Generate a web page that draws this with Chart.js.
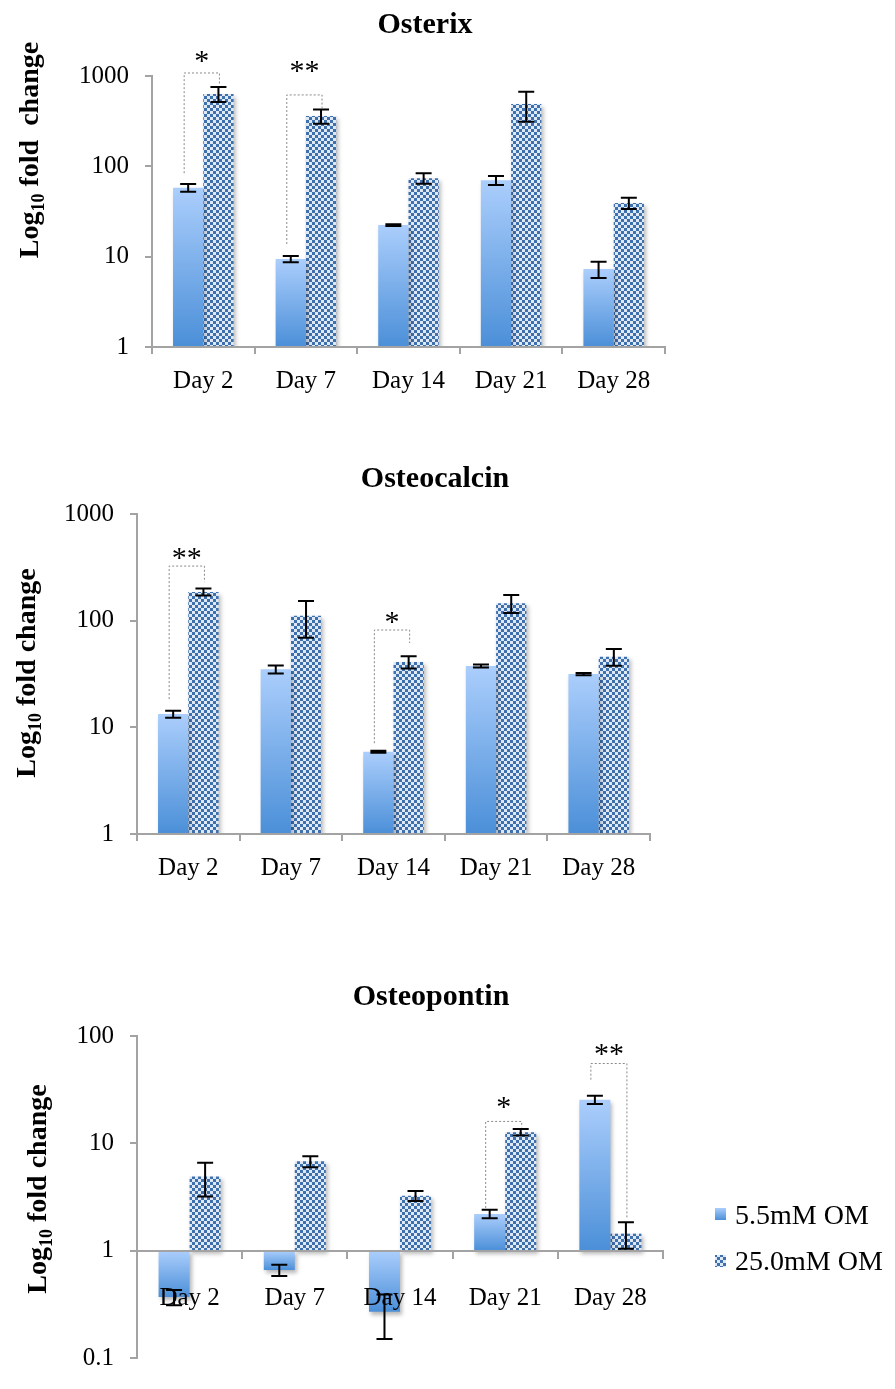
<!DOCTYPE html>
<html>
<head>
<meta charset="utf-8">
<title>Osterix, Osteocalcin, Osteopontin</title>
<script src="https://cdn.jsdelivr.net/npm/chart.js@4.4.1/dist/chart.umd.min.js"></script>
<style>
  body { margin: 0; background: #fff; }
  #wrap { position: relative; width: 895px; height: 1389px; }
  canvas { position: absolute; left: 0; }
</style>
</head>
<body>
<div id="wrap">
  <canvas id="osterix" width="895" height="430" style="top:0px"></canvas>
  <canvas id="osteocalcin" width="895" height="460" style="top:440px"></canvas>
  <canvas id="osteopontin" width="895" height="429" style="top:960px"></canvas>
</div>
<script>
// --- data ---
const days = ['Day 2', 'Day 7', 'Day 14', 'Day 21', 'Day 28'];
const seriesNames = ['5.5mM OM', '25.0mM OM'];

const osxLow     = [58, 9.4, 22.4, 70, 7.3];
const osxLowErr  = [5.8, 0.75, 0.5, 8, 1.5];
const osxHigh    = [634, 361, 74, 490, 39.3];
const osxHighErr = [120, 65, 10, 178, 5.5];
const osxTicks   = [1, 10, 100, 1000];

const ocnLow     = [13.3, 35, 5.9, 37.6, 31.6];
const ocnLowErr  = [1, 3, 0.12, 1.2, 0.8];
const ocnHigh    = [186, 111, 41, 146, 46];
const ocnHighErr = [14, 42, 5.3, 28, 8.3];
const ocnTicks   = [1, 10, 100, 1000];

const opnLow     = [0.37, 0.66, 0.27, 2.2, 25.5];
const opnLowErr  = [0.06, 0.08, 0.12, 0.2, 2.3];
const opnHigh    = [4.9, 6.8, 3.25, 12.7, 1.44];
const opnHighErr = [1.7, 0.8, 0.35, 0.9, 0.4];
const opnTicks   = [0.1, 1, 10, 100];

// significance brackets: day index, stars, and the values where the legs end / the bar / the stars sit
const osxSig = [
  { i: 0, text: '*',  left: 84,   right: 795,  top: 1080, star: 1660 },
  { i: 1, text: '**', left: 13.8, right: 443,  top: 617,  star: 1290 }
];
const ocnSig = [
  { i: 0, text: '**', left: 18.4, right: 230,  top: 325,  star: 431 },
  { i: 2, text: '*',  left: 7.1,  right: 61.7, top: 81.7, star: 108 }
];
const opnSig = [
  { i: 3, text: '*',  left: 2.5,  right: 14.1, top: 16,   star: 24.5 },
  { i: 4, text: '**', left: 39.2, right: 2.04, top: 55.4, star: 75 }
];

// --- styles ---
const axisGray = '#a3a3a3';
const serif = '"Liberation Serif", "Times New Roman", serif';
const tickFont = { family: serif, size: 25 };

const makeChecks = () => {
  const c = document.createElement('canvas');
  c.width = 6; c.height = 6;
  const g = c.getContext('2d');
  g.fillStyle = '#dfe8f5';
  g.fillRect(0, 0, 6, 6);
  g.fillStyle = '#3f70ae';
  g.fillRect(0, 0, 3, 3);
  g.fillRect(3, 3, 3, 3);
  return c;
};

const blueFill = ctx => {
  const chart = ctx.chart;
  const y = chart.scales.y;
  if (!y || !Array.isArray(ctx.raw)) return '#6ea8e8';
  const a = y.getPixelForValue(ctx.raw[0]);
  const b = y.getPixelForValue(ctx.raw[1]);
  if (!isFinite(a) || !isFinite(b)) return '#6ea8e8';
  const g = chart.ctx.createLinearGradient(0, Math.min(a, b), 0, Math.max(a, b));
  g.addColorStop(0, '#abcefc');
  g.addColorStop(1, '#4b8fd8');
  return g;
};

// custom drawing: shadow, error bars, brackets, titles, legend
const makeExtras = spec => ({
  id: 'extras',
  beforeDatasetsDraw(chart) {
    const ctx = chart.ctx;
    ctx.save();
    ctx.shadowColor = 'rgba(0,0,0,0.28)';
    ctx.shadowBlur = 4;
    ctx.shadowOffsetX = 2;
    ctx.shadowOffsetY = 3;
  },
  afterDatasetsDraw(chart) {
    chart.ctx.restore();
  },
  afterDraw(chart) {
    const ctx = chart.ctx;
    const y = chart.scales.y;
    const low = chart.getDatasetMeta(0).data;
    const high = chart.getDatasetMeta(1).data;

    // error bars
    ctx.save();
    ctx.strokeStyle = '#000';
    ctx.lineWidth = 2;
    [[low, spec.low, spec.lowErr], [high, spec.high, spec.highErr]].forEach(([bars, vals, errs]) => {
      bars.forEach((bar, i) => {
        const yt = y.getPixelForValue(vals[i] + errs[i]);
        const yb = y.getPixelForValue(vals[i] - errs[i]);
        const x = bar.x;
        ctx.beginPath();
        ctx.moveTo(x, yt); ctx.lineTo(x, yb);
        ctx.moveTo(x - 8, yt); ctx.lineTo(x + 8, yt);
        ctx.moveTo(x - 8, yb); ctx.lineTo(x + 8, yb);
        ctx.stroke();
      });
    });
    ctx.restore();

    // brackets + stars
    spec.sig.forEach(s => {
      const lx = low[s.i].x - 4;
      const rx = high[s.i].x + 1;
      const top = y.getPixelForValue(s.top);
      ctx.save();
      ctx.strokeStyle = '#8a8a8a';
      ctx.lineWidth = 1;
      ctx.setLineDash([2, 2]);
      ctx.beginPath();
      ctx.moveTo(lx, y.getPixelForValue(s.left));
      ctx.lineTo(lx, top);
      ctx.lineTo(rx, top);
      ctx.lineTo(rx, y.getPixelForValue(s.right));
      ctx.stroke();
      ctx.restore();
      ctx.save();
      ctx.fillStyle = '#000';
      ctx.font = `30px ${serif}`;
      ctx.textAlign = 'center';
      ctx.textBaseline = 'alphabetic';
      ctx.fillText(s.text, (lx + rx) / 2, y.getPixelForValue(s.star) + 14);
      ctx.restore();
    });

    // chart title
    ctx.save();
    ctx.fillStyle = '#000';
    ctx.font = `bold 30px ${serif}`;
    ctx.textAlign = 'center';
    ctx.textBaseline = 'alphabetic';
    ctx.fillText(spec.title, spec.titleX, spec.titleY);
    ctx.restore();

    // y axis title with subscript
    ctx.save();
    ctx.fillStyle = '#000';
    ctx.translate(spec.yTitleX, spec.yTitleY);
    ctx.rotate(-Math.PI / 2);
    ctx.textBaseline = 'alphabetic';
    const big = `bold 28px ${serif}`;
    const small = `bold 18px ${serif}`;
    const rest = spec.yTitleRest;
    ctx.font = big;
    const w1 = ctx.measureText('Log').width;
    const w3 = ctx.measureText(rest).width;
    ctx.font = small;
    const w2 = ctx.measureText('10').width;
    let x = -(w1 + w2 + w3) / 2;
    ctx.font = big;
    ctx.fillText('Log', x, 0);
    x += w1;
    ctx.font = small;
    ctx.fillText('10', x, 6);
    x += w2;
    ctx.font = big;
    ctx.fillText(rest, x, 0);
    ctx.restore();

    // legend
    if (spec.legend) {
      const [lx, ly1, ly2] = spec.legend;
      ctx.save();
      const g = ctx.createLinearGradient(0, ly1 - 9, 0, ly1 + 3);
      g.addColorStop(0, '#abcefc');
      g.addColorStop(1, '#4b8fd8');
      ctx.fillStyle = g;
      ctx.fillRect(lx, ly1 - 9, 11, 12);
      ctx.fillStyle = ctx.createPattern(makeChecks(), 'repeat');
      ctx.fillRect(lx, ly2 - 8, 11, 12);
      ctx.fillStyle = '#000';
      ctx.font = `28px ${serif}`;
      ctx.textBaseline = 'middle';
      ctx.fillText(seriesNames[0], lx + 20, ly1);
      ctx.fillText(seriesNames[1], lx + 20, ly2);
      ctx.restore();
    }
  }
});

const buildPanel = (id, spec) => {
  const canvas = document.getElementById(id);
  const checks = canvas.getContext('2d').createPattern(makeChecks(), 'repeat');
  return new Chart(canvas, {
    type: 'bar',
    data: {
      labels: days,
      datasets: [
        { label: seriesNames[0], data: spec.low.map(v => [1, v]), backgroundColor: blueFill, borderWidth: 0 },
        { label: seriesNames[1], data: spec.high.map(v => [1, v]), backgroundColor: checks, borderWidth: 0 }
      ]
    },
    options: {
      responsive: false,
      animation: false,
      events: [],
      barPercentage: 1,
      categoryPercentage: 0.59,
      layout: { padding: spec.padding },
      plugins: { legend: { display: false }, tooltip: { enabled: false }, title: { display: false } },
      scales: {
        x: {
          position: spec.xAt ? { y: spec.xAt } : 'bottom',
          offset: true,
          grid: { offset: true, drawOnChartArea: false, tickLength: 7, color: axisGray, lineWidth: 2, z: 1 },
          border: { color: axisGray, width: 2, z: 1 },
          ticks: { color: '#000', font: tickFont, padding: spec.xPad, maxRotation: 0, autoSkip: false, z: 1 },
          afterFit: s => { s.height = 50; }
        },
        y: {
          type: 'logarithmic',
          min: spec.ticks[0],
          max: spec.ticks[spec.ticks.length - 1],
          afterBuildTicks: s => { s.ticks = spec.ticks.map(v => ({ value: v })); },
          afterFit: s => { s.width = spec.axisLeft; },
          grid: { drawOnChartArea: false, tickLength: 7, color: axisGray, lineWidth: 2 },
          border: { color: axisGray, width: 2 },
          ticks: { color: '#000', font: tickFont, padding: 16, callback: v => String(v) }
        }
      }
    },
    plugins: [makeExtras(spec)]
  });
};

buildPanel('osterix', {
  low: osxLow, lowErr: osxLowErr, high: osxHigh, highErr: osxHighErr, ticks: osxTicks, sig: osxSig,
  title: 'Osterix', titleX: 425, titleY: 33,
  yTitleX: 38, yTitleY: 150, yTitleRest: ' fold  change',
  axisLeft: 152, xPad: 12, padding: { left: 0, right: 230, top: 76, bottom: 33 }
});

buildPanel('osteocalcin', {
  low: ocnLow, lowErr: ocnLowErr, high: ocnHigh, highErr: ocnHighErr, ticks: ocnTicks, sig: ocnSig,
  title: 'Osteocalcin', titleX: 435, titleY: 47,
  yTitleX: 35, yTitleY: 233, yTitleRest: ' fold change',
  axisLeft: 137, xPad: 12, padding: { left: 0, right: 245, top: 74, bottom: 16 }
});

buildPanel('osteopontin', {
  low: opnLow, lowErr: opnLowErr, high: opnHigh, highErr: opnHighErr, ticks: opnTicks, sig: opnSig,
  title: 'Osteopontin', titleX: 431, titleY: 45,
  yTitleX: 46, yTitleY: 229, yTitleRest: ' fold change',
  axisLeft: 137, xPad: 26, padding: { left: 0, right: 232, top: 76, bottom: 14 },
  xAt: 1,
  legend: [715, 257, 303]
});
</script>
</body>
</html>
